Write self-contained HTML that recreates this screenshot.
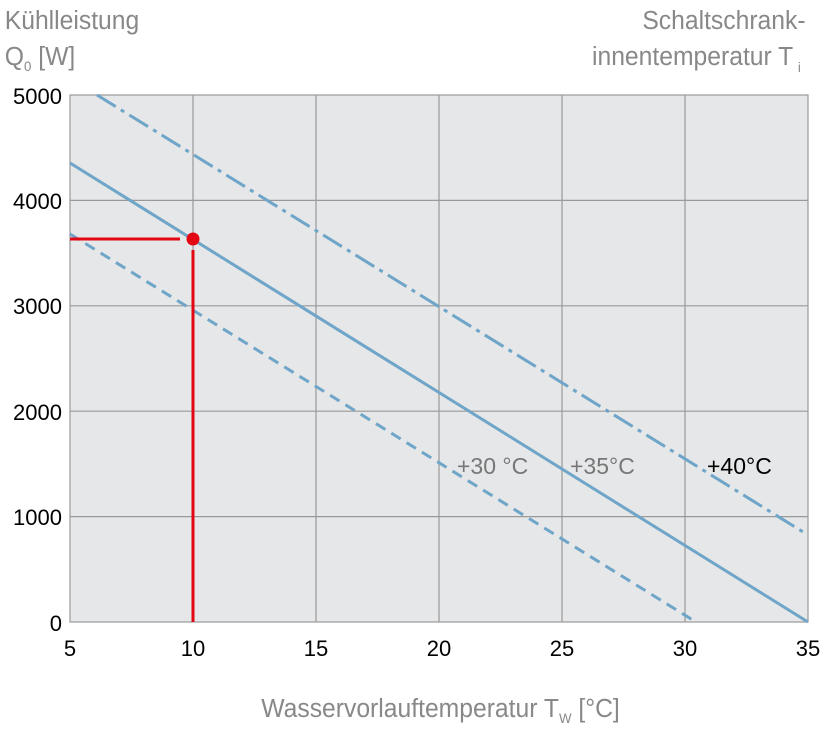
<!DOCTYPE html>
<html><head><meta charset="utf-8"><style>
html,body{margin:0;padding:0;background:#fff;width:836px;height:732px;overflow:hidden}
svg{display:block}
.t{font-family:"Liberation Sans",sans-serif}
</style></head><body>
<svg width="836" height="732" viewBox="0 0 836 732" xmlns="http://www.w3.org/2000/svg">
<rect x="70" y="95" width="738" height="527" fill="#e6e7e8"/>
<g stroke="#999" stroke-width="1.2" fill="none">
<line x1="193" y1="95" x2="193" y2="622"/>
<line x1="316" y1="95" x2="316" y2="622"/>
<line x1="439" y1="95" x2="439" y2="622"/>
<line x1="562" y1="95" x2="562" y2="622"/>
<line x1="685" y1="95" x2="685" y2="622"/>
<line x1="70" y1="200.4" x2="808" y2="200.4"/>
<line x1="70" y1="305.8" x2="808" y2="305.8"/>
<line x1="70" y1="411.2" x2="808" y2="411.2"/>
<line x1="70" y1="516.6" x2="808" y2="516.6"/>
<rect x="70" y="95" width="738" height="527"/>
</g>
<g stroke="#6fa5c8" stroke-width="3" fill="none">
<line x1="70" y1="163" x2="808" y2="622"/>
<line x1="70" y1="234" x2="696" y2="622" stroke-dasharray="11,7"/>
<line x1="97" y1="95" x2="808" y2="535" stroke-dasharray="22,6,4,6"/>
</g>
<g stroke="#e30613" stroke-width="3" fill="none">
<line x1="70" y1="239" x2="180" y2="239"/>
<line x1="193" y1="250" x2="193" y2="622"/>
</g>
<ellipse cx="193" cy="239" rx="6.5" ry="6.5" fill="#e30613"/>
<g class="t" font-size="22" fill="#000" text-anchor="end">
<text x="62" y="104">5000</text>
<text x="62" y="209">4000</text>
<text x="62" y="314">3000</text>
<text x="62" y="420">2000</text>
<text x="62" y="525">1000</text>
<text x="62" y="631">0</text>
</g>
<g class="t" font-size="22" fill="#000" text-anchor="middle">
<text x="70" y="656">5</text>
<text x="193" y="656">10</text>
<text x="316" y="656">15</text>
<text x="439" y="656">20</text>
<text x="562" y="656">25</text>
<text x="685" y="656">30</text>
<text x="808" y="656">35</text>
</g>
<g class="t" font-size="23">
<text x="457" y="474" fill="#777">+30 °C</text>
<text x="570" y="474" fill="#777">+35°C</text>
<text x="707" y="474" fill="#000">+40°C</text>
</g>
<g class="t" font-size="26" fill="#888" transform="scale(0.95,1)">
<text x="5" y="29">Kühlleistung</text>
<text x="5" y="65">Q<tspan font-size="14" dy="6">0</tspan><tspan dy="-6"> [W]</tspan></text>
<text x="848" y="29" text-anchor="end">Schaltschrank-</text>
<text x="835" y="65" text-anchor="end">innentemperatur T</text>
<text x="843" y="72" font-size="14" text-anchor="end">i</text>
<text x="275" y="717">Wasservorlauftemperatur T<tspan font-size="14" dy="6">W</tspan><tspan dy="-6"> [°C]</tspan></text>
</g>
</svg>
</body></html>
